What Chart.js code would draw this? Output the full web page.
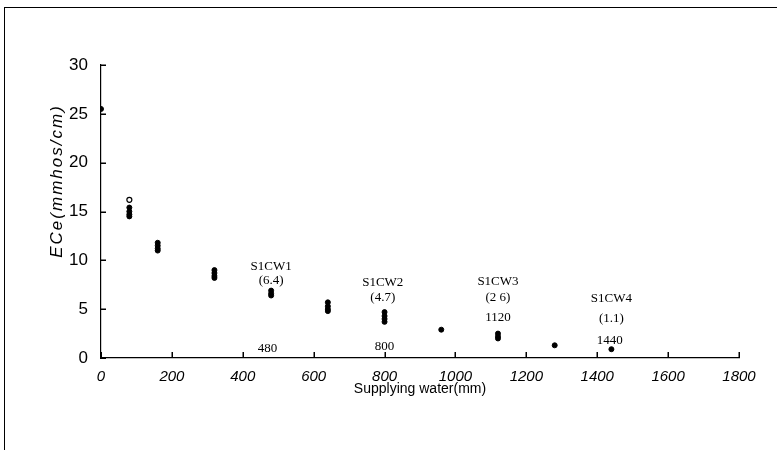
<!DOCTYPE html>
<html>
<head>
<meta charset="utf-8">
<script src="https://cdn.jsdelivr.net/npm/chart.js@4/dist/chart.umd.min.js"></script>
<style>
  html, body { margin: 0; padding: 0; background: #fff; }
  #wrap { width: 777px; height: 450px; }
</style>
</head>
<body>
<div id="wrap"><canvas id="scatterChart"></canvas></div>
<script>
// Supplying water (mm) vs ECe (mmhos/cm), several readings per step
const supplyWater = [0, 80, 80, 80, 80, 160, 160, 160, 160, 320, 320, 320, 320,
  480, 480, 480, 640, 640, 640, 640, 800, 800, 800, 800, 960, 1120, 1120, 1120, 1280, 1440];
const eceValues = [25.5, 15.4, 15.0, 14.7, 14.5, 11.8, 11.5, 11.2, 11.0, 9.0, 8.7, 8.4, 8.2,
  6.9, 6.6, 6.4, 5.7, 5.3, 5.0, 4.8, 4.7, 4.3, 4.0, 3.7, 2.9, 2.5, 2.2, 2.0, 1.3, 0.9];

// the one open circle
const openX = [80];
const openY = [16.2];

const xTicks = [0, 200, 400, 600, 800, 1000, 1200, 1400, 1600, 1800];
const yTicks = [0, 5, 10, 15, 20, 25, 30];

// treatment labels: [text, x, y] in data units
const treatLabels = [
  ['S1CW1', 480, 9.4], ['(6.4)', 480, 7.9], ['480', 470, 1.0],
  ['S1CW2', 795, 7.7], ['(4.7)', 795, 6.2], ['800', 800, 1.2],
  ['S1CW3', 1120, 7.8], ['(2 6)', 1120, 6.2], ['1120', 1120, 4.1],
  ['S1CW4', 1440, 6.1], ['(1.1)', 1440, 4.0], ['1440', 1435, 1.8]
];

function toPoints(xs, ys) {
  return xs.map((x, i) => ({ x: x, y: ys[i] }));
}

// inward tick marks, frame lines, y title and the treatment labels
const decorPlugin = {
  id: 'decor',
  afterDraw(chart) {
    const c = chart.ctx;
    const xs = chart.scales.x;
    const ys = chart.scales.y;
    const bottom = ys.getPixelForValue(0);
    const left = xs.getPixelForValue(0);
    c.save();
    c.fillStyle = '#000';
    xTicks.forEach(v => {
      const px = Math.round(xs.getPixelForValue(v));
      c.fillRect(px - 0.5, bottom - 6, 1.5, 6);
    });
    yTicks.forEach(v => {
      const py = Math.round(ys.getPixelForValue(v));
      c.fillRect(left, py - 0.5, 5, 1.5);
    });

    // page frame (top and left edges)
    c.fillRect(4, 7, 1, 443);
    c.fillRect(4, 7, 773, 1);

    c.font = '13px "Liberation Serif", "Times New Roman", serif';
    c.textAlign = 'center';
    c.textBaseline = 'middle';
    treatLabels.forEach(t => {
      c.fillText(t[0], xs.getPixelForValue(t[1]), ys.getPixelForValue(t[2]));
    });

    c.translate(57, 181);
    c.rotate(-Math.PI / 2);
    c.font = 'italic 17px "Liberation Sans", Arial, sans-serif';
    c.letterSpacing = '2px';
    c.fillText('ECe(mmhos/cm)', 0, 0);
    c.restore();
  }
};

const ctx = document.getElementById('scatterChart').getContext('2d');

new Chart(ctx, {
  type: 'scatter',
  data: {
    datasets: [
      {
        label: 'ECe',
        data: toPoints(supplyWater, eceValues),
        backgroundColor: '#000',
        borderColor: '#000',
        pointRadius: 2.5,
        pointHoverRadius: 2.5
      },
      {
        label: 'ECe open',
        data: toPoints(openX, openY),
        backgroundColor: '#fff',
        borderColor: '#000',
        borderWidth: 1.2,
        pointRadius: 2.5,
        pointHoverRadius: 2.5
      }
    ]
  },
  options: {
    responsive: true,
    maintainAspectRatio: false,
    animation: false,
    layout: {
      padding: { left: 40, top: 65, right: 38, bottom: 52 }
    },
    plugins: {
      legend: { display: false },
      tooltip: { enabled: false }
    },
    scales: {
      x: {
        type: 'linear',
        min: 0,
        max: 1800,
        afterFit: scale => { scale.height = 40; },
        afterBuildTicks: scale => { scale.ticks = xTicks.map(v => ({ value: v })); },
        grid: { drawOnChartArea: false, drawTicks: false, color: '#000' },
        border: { color: '#000', width: 1.2 },
        ticks: {
          padding: 10,
          color: '#000',
          maxRotation: 0,
          callback: v => String(v),
          font: { family: '"Liberation Sans", Arial, sans-serif', size: 15, style: 'italic' }
        },
        title: {
          display: true,
          text: 'Supplying water(mm)',
          color: '#000',
          padding: 0,
          font: { family: '"Liberation Sans", Arial, sans-serif', size: 14 }
        }
      },
      y: {
        type: 'linear',
        min: 0,
        max: 30,
        afterFit: scale => { scale.width = 61; },
        afterBuildTicks: scale => { scale.ticks = yTicks.map(v => ({ value: v })); },
        grid: { drawOnChartArea: false, drawTicks: false, color: '#000' },
        border: { color: '#000', width: 1.2 },
        ticks: {
          padding: 13,
          color: '#000',
          callback: v => String(v),
          font: { family: '"Liberation Sans", Arial, sans-serif', size: 17 }
        }
      }
    }
  },
  plugins: [decorPlugin]
});
</script>
</body>
</html>
